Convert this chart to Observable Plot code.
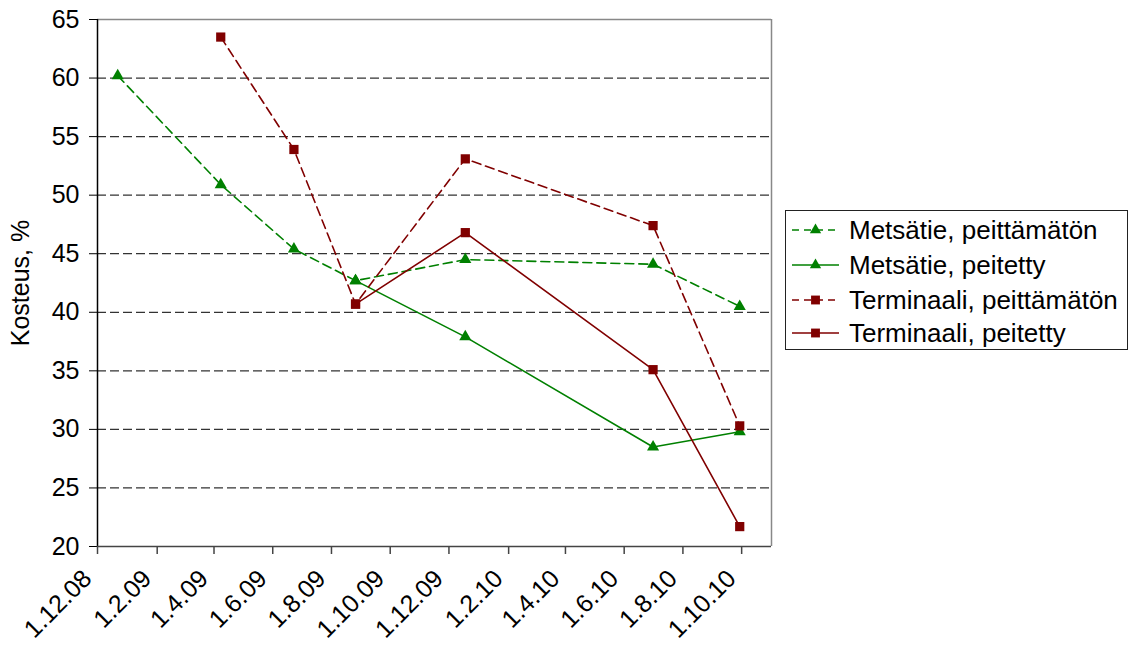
<!DOCTYPE html>
<html>
<head>
<meta charset="utf-8">
<script src="https://cdn.jsdelivr.net/npm/d3@7"></script>
<script src="https://cdn.jsdelivr.net/npm/@observablehq/plot@0.6"></script>
<style>
  html, body { margin: 0; padding: 0; background: #fff; }
  #wrap { position: relative; width: 1137px; height: 646px; font-family: "Liberation Sans", Arial, sans-serif; }
  #chart svg text { font-size: 25px; }
  #legend { position: absolute; left: 785px; top: 210px; width: 343px; height: 140px; border: 1px solid #222; background: #fff; box-sizing: border-box; }
  .row { position: absolute; left: 0; height: 30px; display: flex; align-items: center; }
  .row svg { margin-left: 6px; }
  .row span { margin-left: 9px; font-size: 26px; color: #000; white-space: nowrap; }
</style>
</head>
<body>
<div id="wrap"><div id="chart"></div><div id="legend"></div></div>
<script>
// ---- data ----
const dates = ["2008-12-22", "2009-04-08", "2009-06-23", "2009-08-26", "2009-12-18", "2010-07-01", "2010-09-29"];
const metsatiePeittamaton = [60.2, 50.9, 45.4, 42.7, 44.5, 44.1, 40.5];
const metsatiePeitetty = [null, null, null, 42.7, 37.9, 28.5, 29.8];
const terminaaliPeittamaton = [null, 63.5, 53.9, 40.7, 53.1, 47.4, 30.3];
const terminaaliPeitetty = [null, null, null, 40.7, 46.8, 35.1, 21.7];

const seriesNames = ["Metsätie, peittämätön", "Metsätie, peitetty", "Terminaali, peittämätön", "Terminaali, peitetty"];
const seriesValues = [metsatiePeittamaton, metsatiePeitetty, terminaaliPeittamaton, terminaaliPeitetty];
const seriesColors = ["#008000", "#008000", "#800000", "#800000"];
const seriesDashed = [true, false, true, false];
const seriesSymbols = ["triangle", "triangle", "square", "square"];

const tickDates = ["2008-12-01", "2009-02-01", "2009-04-01", "2009-06-01", "2009-08-01", "2009-10-01", "2009-12-01", "2010-02-01", "2010-04-01", "2010-06-01", "2010-08-01", "2010-10-01"];
const tickLabels = ["1.12.08", "1.2.09", "1.4.09", "1.6.09", "1.8.09", "1.10.09", "1.12.09", "1.2.10", "1.4.10", "1.6.10", "1.8.10", "1.10.10"];
const xDomain = ["2008-12-01", "2010-11-01"];
const yTicks = [20, 25, 30, 35, 40, 45, 50, 55, 60, 65];
const gridValues = [25, 30, 35, 40, 45, 50, 55, 60];
const yLabel = "Kosteus, %";

// ---- build table ----
const rows = [];
seriesValues.forEach((vals, s) => {
  vals.forEach((v, i) => {
    if (v != null) rows.push({series: seriesNames[s], s, date: new Date(dates[i]), value: v});
  });
});
const tickD = tickDates.map(d => new Date(d));
const dom = xDomain.map(d => new Date(d));
const fmt = (d) => tickLabels[tickD.findIndex(t => +t === +d)];

const marks = [
  Plot.ruleY(gridValues, {stroke: "#333", strokeDasharray: "9,4", strokeWidth: 1.2}),
  Plot.ruleY([65], {stroke: "#888", strokeWidth: 1.5}),
  Plot.ruleX([dom[1]], {stroke: "#888", strokeWidth: 1.5}),
  Plot.axisY({ticks: yTicks, tickSize: 8, tickPadding: 10, label: yLabel, labelAnchor: "center", labelArrow: "none", labelOffset: 86}),
  Plot.axisX({ticks: tickD, tickSize: 8, fill: "none", stroke: "#444", strokeWidth: 1.5, label: null}),
  Plot.axisX({ticks: tickD, tickSize: 0, tickPadding: 28, tickFormat: fmt, tickRotate: -45, dx: -10, label: null})
];
seriesNames.forEach((name, s) => {
  const data = rows.filter(r => r.s === s);
  marks.push(Plot.line(data, {x: "date", y: "value", stroke: seriesColors[s], strokeWidth: 1.6, strokeDasharray: seriesDashed[s] ? "9,5" : null}));
});
seriesNames.forEach((name, s) => {
  const data = rows.filter(r => r.s === s);
  marks.push(Plot.dot(data, {x: "date", y: "value", fill: seriesColors[s], stroke: "none", symbol: seriesSymbols[s], r: seriesSymbols[s] === "square" ? 5.2 : 4.5}));
});
marks.push(Plot.ruleX([dom[0]], {stroke: "#000", strokeWidth: 1.5}));
marks.push(Plot.ruleY([20], {stroke: "#444", strokeWidth: 1.5}));

const chart = Plot.plot({
  width: 1137,
  height: 646,
  marginLeft: 97,
  marginRight: 366,
  marginTop: 19,
  marginBottom: 100,
  style: {fontFamily: "'Liberation Sans', Arial, sans-serif", fontSize: "25px", color: "#000", background: "#fff", overflow: "visible"},
  x: {type: "utc", domain: dom},
  y: {domain: [20, 65]},
  marks
});
document.getElementById("chart").appendChild(chart);

// ---- legend ----
const legend = document.getElementById("legend");
const rowTops = [4, 39, 74, 107];
seriesNames.forEach((name, s) => {
  const row = document.createElement("div");
  row.className = "row";
  row.style.top = rowTops[s] + "px";
  const ns = "http://www.w3.org/2000/svg";
  const svg = document.createElementNS(ns, "svg");
  svg.setAttribute("width", 48); svg.setAttribute("height", 20);
  const line = document.createElementNS(ns, "line");
  line.setAttribute("x1", 0); line.setAttribute("x2", 47); line.setAttribute("y1", 10); line.setAttribute("y2", 10);
  line.setAttribute("stroke", seriesColors[s]); line.setAttribute("stroke-width", 1.6);
  if (seriesDashed[s]) line.setAttribute("stroke-dasharray", "7,5");
  svg.appendChild(line);
  const path = document.createElementNS(ns, "path");
  const sym = seriesSymbols[s] === "square" ? d3.symbolSquare : d3.symbolTriangle;
  const r = seriesSymbols[s] === "square" ? 5 : 4.2;
  path.setAttribute("d", d3.symbol(sym, Math.PI * r * r)());
  path.setAttribute("transform", "translate(23.5,10)");
  path.setAttribute("fill", seriesColors[s]);
  svg.appendChild(path);
  row.appendChild(svg);
  const span = document.createElement("span");
  span.textContent = name;
  row.appendChild(span);
  legend.appendChild(row);
});
</script>
</body>
</html>
